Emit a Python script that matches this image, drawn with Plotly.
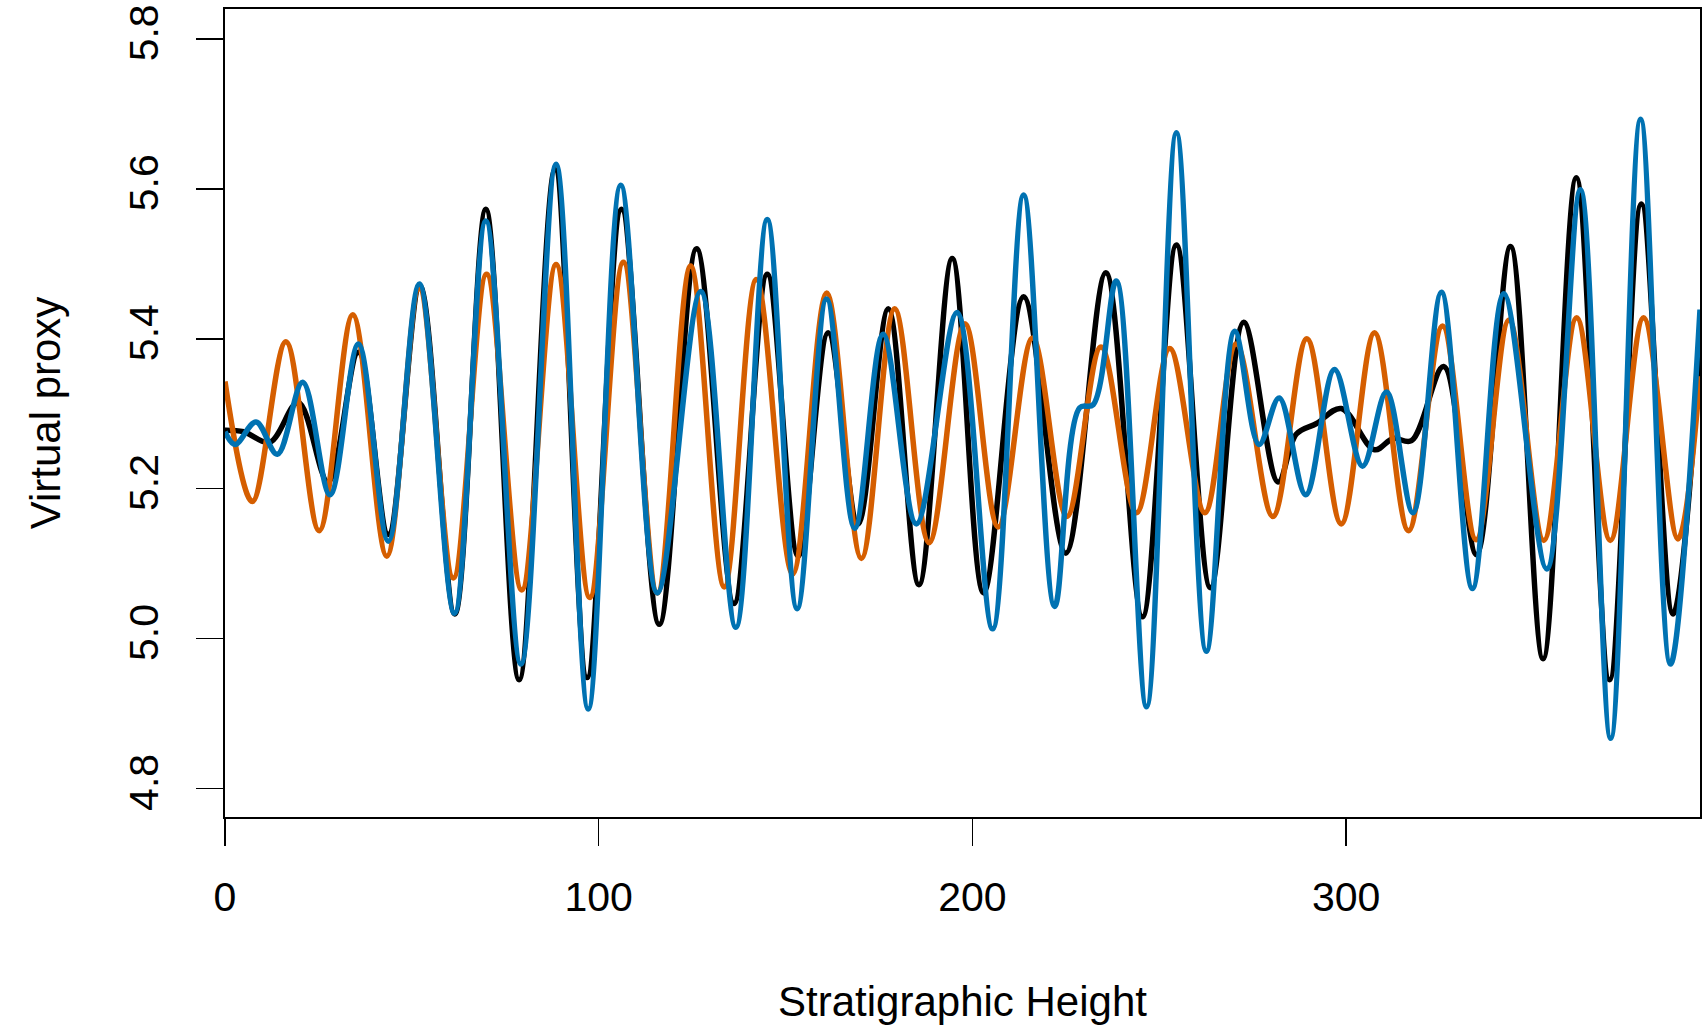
import plotly.graph_objects as go

# ---- data (extrema and end points) ----
black_x = [0, 5, 12, 19.6, 27.6, 35.7, 43.7, 52.2, 61.5, 69.8, 78.7, 88.3, 96.9, 106.1, 116.2,
           126.2, 136.2, 145.1, 153.4, 161.4, 169.4, 177.5, 185.7, 194.6, 203.0, 213.7, 225.0,
           235.7, 245.5, 254.6, 263.7, 272.6, 281.8, 286.7, 292.1, 298.7, 307.6, 312.6, 317.5,
           326.1, 334.9, 344.0, 352.7, 361.6, 370.5, 379.0, 387.5, 394.7]
black_y = [5.278, 5.276, 5.262, 5.315, 5.209, 5.382, 5.139, 5.470, 5.033, 5.573, 4.945, 5.626,
           4.948, 5.573, 5.019, 5.520, 5.047, 5.486, 5.110, 5.408, 5.153, 5.440, 5.072, 5.507,
           5.061, 5.456, 5.114, 5.488, 5.029, 5.525, 5.068, 5.422, 5.209, 5.273, 5.287, 5.307,
           5.252, 5.267, 5.264, 5.363, 5.112, 5.523, 4.973, 5.615, 4.945, 5.580, 5.033, 5.386]

orange_x = [0, 7.3, 16.3, 25.2, 34.2, 43.3, 52.0, 61.1, 70.0, 79.4, 88.6, 97.6, 106.6, 115.7,
            124.6, 133.6, 142.2, 151.9, 161.0, 170.3, 179.2, 188.4, 198.0, 206.9, 216.1, 225.3,
            234.4, 243.9, 252.8, 262.2, 270.6, 280.4, 289.5, 298.7, 307.6, 316.7, 325.8, 334.8,
            343.6, 352.9, 361.7, 370.7, 379.6, 388.8, 394.7]
orange_y = [5.343, 5.183, 5.396, 5.144, 5.432, 5.110, 5.467, 5.081, 5.486, 5.065, 5.499, 5.055,
            5.502, 5.061, 5.497, 5.069, 5.479, 5.086, 5.461, 5.107, 5.440, 5.128, 5.420, 5.149,
            5.401, 5.163, 5.389, 5.168, 5.387, 5.168, 5.393, 5.163, 5.400, 5.153, 5.408, 5.144,
            5.417, 5.132, 5.425, 5.131, 5.428, 5.131, 5.428, 5.133, 5.350]

blue_x = [0, 2.7, 8.3, 14.0, 20.8, 28.1, 35.7, 43.7, 52.0, 61.4, 69.8, 79.2, 88.6, 97.2, 105.9,
          115.7, 127.3, 136.7, 145.1, 153.1, 161.0, 168.5, 176.1, 185.0, 195.9, 205.4, 213.7,
          222.0, 228.7, 232.3, 238.5, 246.6, 254.6, 262.6, 270.2, 276.7, 282.1, 289.2, 296.9,
          304.4, 310.8, 317.9, 325.5, 333.8, 342.2, 353.7, 362.7, 370.8, 378.8, 386.8, 394.7]
blue_y = [5.276, 5.259, 5.289, 5.246, 5.342, 5.192, 5.393, 5.130, 5.473, 5.034, 5.557, 4.966,
          5.633, 4.906, 5.605, 5.061, 5.463, 5.015, 5.559, 5.040, 5.453, 5.147, 5.406, 5.153,
          5.435, 5.013, 5.592, 5.043, 5.308, 5.312, 5.477, 4.909, 5.675, 4.983, 5.410, 5.259,
          5.321, 5.192, 5.359, 5.230, 5.329, 5.168, 5.462, 5.067, 5.460, 5.093, 5.599, 4.867,
          5.693, 4.966, 5.439]

x_ticks = [0, 100, 200, 300]
y_ticks = [4.8, 5.0, 5.2, 5.4, 5.6, 5.8]
y_tick_labels = ["4.8", "5.0", "5.2", "5.4", "5.6", "5.8"]

FONT = "Liberation Sans, Arial, sans-serif"

fig = go.Figure()
for xs, ys, col in [(black_x, black_y, "#000000"),
                    (orange_x, orange_y, "#D55E00"),
                    (blue_x, blue_y, "#0072B2")]:
    fig.add_trace(go.Scatter(x=xs, y=ys, mode="lines",
                             line=dict(color=col, width=5.5, shape="spline", smoothing=1.0),
                             hoverinfo="skip"))

fig.update_layout(
    width=1704, height=1032,
    margin=dict(l=225, r=4, t=9, b=215),
    plot_bgcolor="white", paper_bgcolor="white",
    showlegend=False,
    font=dict(family=FONT, color="black", size=41),
)
fig.update_xaxes(
    range=[0, 394.7], tickvals=x_ticks, ticks="outside", ticklen=27, tickwidth=1.5,
    tickcolor="black", showgrid=False, zeroline=False, showline=True, mirror=True,
    linecolor="black", linewidth=2, tickfont=dict(size=41), ticklabelstandoff=16,
    ticklabeloverflow="allow", automargin=False,
    title=dict(text="Stratigraphic Height", font=dict(size=42), standoff=67),
)
fig.update_yaxes(
    range=[4.762, 5.840], tickvals=y_ticks, ticktext=y_tick_labels, tickangle=-90,
    ticks="outside", ticklen=27, tickwidth=1.5, tickcolor="black", showgrid=False,
    zeroline=False, showline=True, mirror=True, linecolor="black", linewidth=2,
    tickfont=dict(size=41), ticklabelstandoff=22, ticklabeloverflow="allow",
    automargin=False,
    title=dict(text="Virtual proxy", font=dict(size=42), standoff=47),
)

# remove the page's default body margin so the figure fills the window exactly
fig.write_html("out.html",
               config={"displayModeBar": False, "staticPlot": True},
               post_script="document.body.style.margin='0';document.body.style.overflow='hidden';")
